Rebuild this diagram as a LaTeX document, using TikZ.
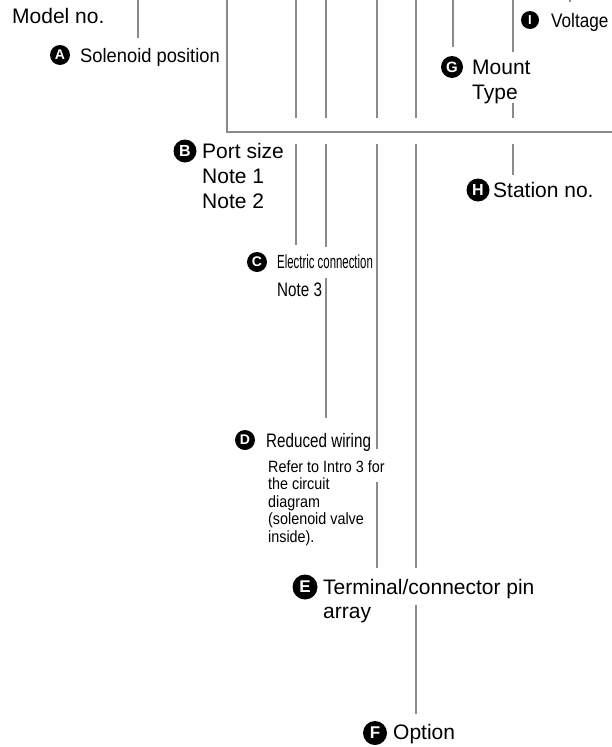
\documentclass[tikz,border=0pt]{standalone}
\usepackage{fontspec}
\setmainfont{Liberation Sans}
% narrower cuts of the same face for the tighter labels
\newfontfamily\narrowA[FakeStretch=0.94]{Liberation Sans}
\newfontfamily\narrowB[FakeStretch=0.88]{Liberation Sans}
\newfontfamily\narrowC[FakeStretch=0.78]{Liberation Sans}
\newfontfamily\narrowD[FakeStretch=0.60]{Liberation Sans}
\newcommand\fs[2]{\fontsize{#1}{#2}\selectfont}
% stacked lines that hang from the baseline of the first one
\newcommand\toplines[1]{\begin{tabular}[t]{@{}l@{}}#1\end{tabular}}
\definecolor{leadgrey}{HTML}{8A8A8A}
\tikzset{
  lead/.style={draw=leadgrey, line width=2.5pt},
  badge/.style 2 args={circle, fill=black, text=white, inner sep=0pt,
    minimum size=#1pt, font=\bfseries\fontsize{#2}{#2}\selectfont},
  lbl/.style={anchor=base west, inner sep=0pt},
}
\begin{document}
\begin{tikzpicture}[x=1pt,y=-1pt]
\useasboundingbox (0,0) rectangle (611,747);

% ---- leader-line end points ----
\coordinate (mT) at (138,-2);  \coordinate (mB) at (138,38);
\coordinate (boxTL) at (227,-2); \coordinate (boxBR) at (614,132);
\coordinate (b1T) at (296,-2); \coordinate (b1B) at (296,118);
\coordinate (b2T) at (296,144); \coordinate (b2B) at (296,245);
\coordinate (c1T) at (326,-2); \coordinate (c1B) at (326,118);
\coordinate (c2T) at (326,144); \coordinate (c2B) at (326,247);
\coordinate (c3T) at (326,278); \coordinate (c3B) at (326,418);
\coordinate (d1T) at (377,-2); \coordinate (d1B) at (377,118);
\coordinate (d2T) at (377,144); \coordinate (d2B) at (377,449);
\coordinate (d3T) at (377,482); \coordinate (d3B) at (377,568);
\coordinate (e1T) at (416,-2); \coordinate (e1B) at (416,118);
\coordinate (e2T) at (416,144); \coordinate (e2B) at (416,568);
\coordinate (e3T) at (416,605); \coordinate (e3B) at (416,714);
\coordinate (gT) at (453,-2);  \coordinate (gB) at (453,47);
\coordinate (h1T) at (513,-2); \coordinate (h1B) at (513,52);
\coordinate (h2T) at (513,103); \coordinate (h2B) at (513,118);
\coordinate (h3T) at (513,144); \coordinate (h3B) at (513,175);
\coordinate (iT) at (570,-2);  \coordinate (iB) at (570,2);

% ---- leader lines ----
\draw[lead] (mT) -- (mB);
\draw[lead] (boxTL) |- (boxBR);
\draw[lead] (b1T) -- (b1B);  \draw[lead] (b2T) -- (b2B);
\draw[lead] (c1T) -- (c1B);  \draw[lead] (c2T) -- (c2B);  \draw[lead] (c3T) -- (c3B);
\draw[lead] (d1T) -- (d1B);  \draw[lead] (d2T) -- (d2B);  \draw[lead] (d3T) -- (d3B);
\draw[lead] (e1T) -- (e1B);  \draw[lead] (e2T) -- (e2B);  \draw[lead] (e3T) -- (e3B);
\draw[lead] (gT) -- (gB);
\draw[lead] (h1T) -- (h1B);  \draw[lead] (h2T) -- (h2B);  \draw[lead] (h3T) -- (h3B);
\draw[lead] (iT) -- (iB);

% ---- labels ----
\node[lbl, font=\fs{21}{25}] (model) at (12,23) {Model no.};

\node[badge={20}{14}] (bA) at (60,55) {A};
\node[lbl, font=\narrowA\fs{19.5}{23}] (tA) at (80,62) {Solenoid position};

\node[badge={18}{13}] (bI) at (530,20) {I};
\node[lbl, font=\narrowB\fs{19.5}{23}] (tI) at (551,27) {Voltage};

\node[badge={22}{15}] (bG) at (452,67) {G};
\node[lbl, font=\fs{21}{25}] (tG) at (472,74) {\toplines{Mount\\Type}};

\node[badge={23}{16}] (bB) at (185,151) {B};
\node[lbl, font=\fs{21}{25}] (tB) at (202,158) {\toplines{Port size\\Note 1\\Note 2}};

\node[badge={23}{16}] (bH) at (478,190) {H};
\node[lbl, font=\fs{21}{25}] (tH) at (493,197) {Station no.};

\node[badge={20}{14}] (bC) at (257,262) {C};
\node[lbl, font=\narrowD\fs{19}{23}] (tC) at (277,268) {Electric connection};
\node[lbl, font=\narrowC\fs{19.5}{23}] (tC2) at (277,296) {Note 3};

\node[badge={20}{14}] (bD) at (245,440) {D};
\node[lbl, font=\narrowC\fs{19.5}{23}] (tD) at (266,447) {Reduced wiring};
\node[lbl, font=\narrowB\fs{16.3}{17.5}] (tD2) at (268,472)
  {\toplines{Refer to Intro 3 for\\the circuit\\diagram\\(solenoid valve\\inside).}};

\node[badge={25}{17}] (bE) at (305,587) {E};
\node[lbl, font=\fs{21}{24}] (tE) at (323,594) {\toplines{Terminal/connector pin\\array}};

\node[badge={24}{17}] (bF) at (375,733) {F};
\node[lbl, font=\fs{21}{25}] (tF) at (393,739) {Option};
\end{tikzpicture}
\end{document}
